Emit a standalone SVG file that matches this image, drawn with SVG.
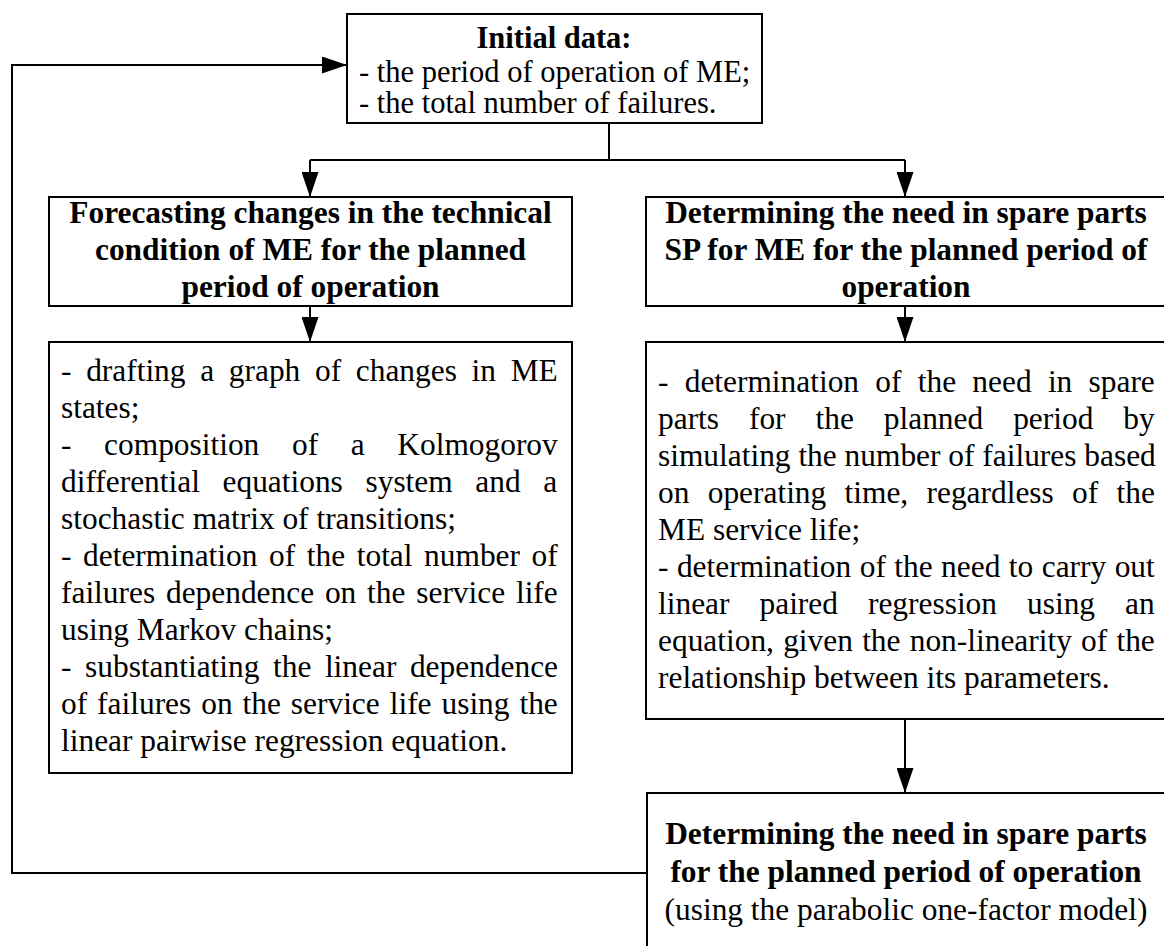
<svg xmlns="http://www.w3.org/2000/svg" width="1164" height="946" viewBox="0 0 1164 946">
<defs>
<marker id="ah" markerWidth="25" markerHeight="17" refX="25" refY="8.5" orient="auto" markerUnits="userSpaceOnUse" viewBox="0 0 25 17">
<path d="M0,0 L25,8.5 L0,17 Z" fill="#000"/>
</marker>
<style>
.box{fill:#fff;stroke:#000;stroke-width:2}
.t{font-family:"Liberation Serif","Times New Roman",serif;font-size:31.4px;fill:#000}
.s{font-size:30.5px}
.b{font-weight:bold;text-anchor:middle}
.c{text-anchor:middle}
.ln{fill:none;stroke:#000;stroke-width:2}
</style>
</defs>
<rect width="1164" height="946" fill="#fff"/>
<g id="connectors">
<path class="ln" d="M647,873 H12 V65 H347" marker-end="url(#ah)"/>
<path class="ln" d="M609,123 V160"/>
<path class="ln" d="M310,160 H905"/>
<path class="ln" d="M310,160 V197" marker-end="url(#ah)"/>
<path class="ln" d="M905,160 V197" marker-end="url(#ah)"/>
<path class="ln" d="M310,306 V342" marker-end="url(#ah)"/>
<path class="ln" d="M905,306 V342" marker-end="url(#ah)"/>
<path class="ln" d="M905,719 V793" marker-end="url(#ah)"/>
</g>
<g id="initial-data">
<rect class="box" x="347" y="14" width="415" height="109"/>
<text class="t s b" x="554" y="48">Initial data:</text>
<text class="t s" x="359" y="82">- the period of operation of ME;</text>
<text class="t s" x="359" y="113">- the total number of failures.</text>
</g>
<g id="forecasting">
<rect class="box" x="49" y="197" width="523" height="109"/>
<text class="t b" x="310.5" y="223">Forecasting changes in the technical</text>
<text class="t b" x="310.5" y="260">condition of ME for the planned</text>
<text class="t b" x="310.5" y="297">period of operation</text>
</g>
<g id="determining-sp">
<rect class="box" x="646" y="197" width="520" height="109"/>
<text class="t b" x="906" y="223">Determining the need in spare parts</text>
<text class="t b" x="906" y="260">SP for ME for the planned period of</text>
<text class="t b" x="906" y="297">operation</text>
</g>
<g id="forecasting-steps">
<rect class="box" x="49" y="342" width="523" height="431"/>
<text class="t" x="61" y="381" style="word-spacing:6.84px">- drafting a graph of changes in ME</text>
<text class="t" x="61" y="418">states;</text>
<text class="t" x="61" y="455" style="word-spacing:24.8px">- composition of a Kolmogorov</text>
<text class="t" x="61" y="492" style="word-spacing:14.8px">differential equations system and a</text>
<text class="t" x="61" y="529">stochastic matrix of transitions;</text>
<text class="t" x="61" y="566" style="word-spacing:3.76px">- determination of the total number of</text>
<text class="t" x="61" y="603" style="word-spacing:2.96px">failures dependence on the service life</text>
<text class="t" x="61" y="640">using Markov chains;</text>
<text class="t" x="61" y="677" style="word-spacing:5.72px">- substantiating the linear dependence</text>
<text class="t" x="61" y="714" style="word-spacing:2.11px">of failures on the service life using the</text>
<text class="t" x="61" y="751">linear pairwise regression equation.</text>
</g>
<g id="sp-steps">
<rect class="box" x="646" y="342" width="520" height="377"/>
<text class="t" x="658" y="392" style="word-spacing:8.42px">- determination of the need in spare</text>
<text class="t" x="658" y="429" style="word-spacing:22.1px">parts for the planned period by</text>
<text class="t" x="658" y="466">simulating the number of failures based</text>
<text class="t" x="658" y="503" style="word-spacing:10.46px">on operating time, regardless of the</text>
<text class="t" x="658" y="540">ME service life;</text>
<text class="t" x="658" y="577" style="word-spacing:0.61px">- determination of the need to carry out</text>
<text class="t" x="658" y="614" style="word-spacing:22.2px">linear paired regression using an</text>
<text class="t" x="658" y="651" style="word-spacing:1.38px">equation, given the non-linearity of the</text>
<text class="t" x="658" y="688">relationship between its parameters.</text>
</g>
<g id="spare-parts-need">
<rect class="box" x="647" y="793" width="520" height="160"/>
<text class="t b" x="906" y="844">Determining the need in spare parts</text>
<text class="t b" x="906" y="882">for the planned period of operation</text>
<text class="t c" x="906" y="920">(using the parabolic one-factor model)</text>
</g>
</svg>
